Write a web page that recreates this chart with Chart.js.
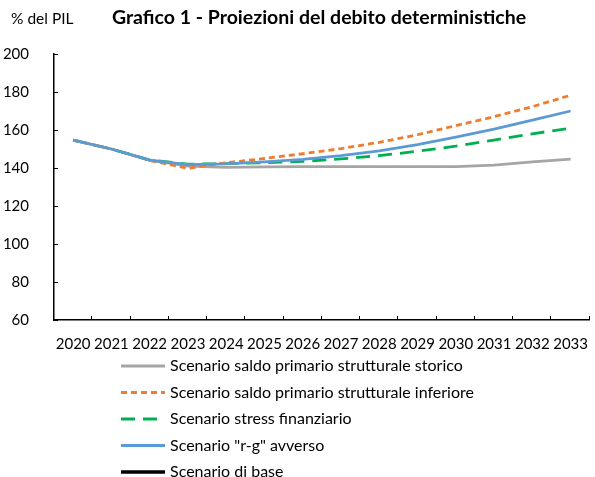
<!DOCTYPE html>
<html>
<head>
<meta charset="utf-8">
<script src="https://cdn.jsdelivr.net/npm/chart.js@4/dist/chart.umd.min.js"></script>
<style>
  html, body { margin: 0; padding: 0; background: #fff; }
  #wrap { width: 595px; height: 477px; }
</style>
</head>
<body>
<div id="wrap"><canvas id="chart" width="595" height="477"></canvas></div>
<script>
var FONT = "Lato, 'Open Sans', sans-serif";

var years = ['2020', '2021', '2022', '2023', '2024', '2025', '2026', '2027', '2028', '2029', '2030', '2031', '2032', '2033'];
var yTicks = [60, 80, 100, 120, 140, 160, 180, 200];

// debito/PIL per scenario
var storico   = [154.7, 150.0, 144.2, 141.0, 140.3, 140.6, 140.7, 140.7, 140.7, 140.7, 140.7, 141.5, 143.2, 144.7];
var inferiore = [154.7, 150.0, 144.0, 139.8, 142.8, 145.0, 147.5, 150.2, 153.5, 157.5, 162.3, 167.0, 172.3, 178.3];
var stress    = [154.7, 150.0, 144.2, 142.0, 142.3, 142.8, 143.5, 144.8, 146.5, 148.8, 151.5, 154.7, 158.0, 161.0];
var rgAvverso = [154.7, 150.0, 144.2, 141.8, 142.2, 143.2, 144.5, 146.5, 149.0, 152.3, 156.2, 160.5, 165.2, 170.0];
var base      = [null, null, null, null, null, null, null, null, null, null, null, null, null, null];

var seriesNames = [
    'Scenario saldo primario strutturale storico',
    'Scenario saldo primario strutturale inferiore',
    'Scenario stress finanziario',
    'Scenario "r-g" avverso',
    'Scenario di base'
];

function line(label, data, color, dash, order, width) {
    return {
        label: label,
        data: data,
        borderColor: color,
        backgroundColor: color,
        borderWidth: width || 2.8,
        borderDash: dash,
        pointRadius: 0,
        tension: 0,
        fill: false,
        order: order
    };
}

// titles, inner tick marks and the vertical legend
var decorations = {
    id: 'decorations',
    afterDraw: function (chart) {
        var ctx = chart.ctx;
        var area = chart.chartArea;
        var y = chart.scales.y;
        ctx.save();

        ctx.fillStyle = '#000';
        ctx.textBaseline = 'middle';
        ctx.textAlign = 'left';
        ctx.font = '15.5px ' + FONT;
        ctx.fillText('% del PIL', 11, 19);
        ctx.font = 'bold 19.5px ' + FONT;
        ctx.textAlign = 'center';
        ctx.fillText('Grafico 1 - Proiezioni del debito deterministiche', 319, 18);

        ctx.strokeStyle = '#000';
        ctx.lineWidth = 1;
        ctx.beginPath();
        for (var i = 0; i < yTicks.length; i++) {
            var py = Math.round(y.getPixelForValue(yTicks[i])) + 0.5;
            ctx.moveTo(area.left, py);
            ctx.lineTo(area.left + 4, py);
        }
        var step = (area.right - area.left) / years.length;
        for (var j = 1; j <= years.length; j++) {
            var px = Math.round(area.left + j * step) - 0.5;
            ctx.moveTo(px, area.bottom);
            ctx.lineTo(px, area.bottom - 4);
        }
        ctx.stroke();

        var ds = chart.data.datasets;
        ctx.font = '16px ' + FONT;
        ctx.textAlign = 'left';
        for (var k = 0; k < ds.length; k++) {
            var ly = 366 + k * 26.5;
            ctx.beginPath();
            ctx.strokeStyle = ds[k].borderColor;
            ctx.lineWidth = ds[k].borderWidth;
            ctx.setLineDash(ds[k].borderDash || []);
            ctx.moveTo(121, ly);
            ctx.lineTo(165, ly);
            ctx.stroke();
            ctx.setLineDash([]);
            ctx.fillStyle = '#000';
            ctx.fillText(ds[k].label, 170, ly);
        }
        ctx.restore();
    }
};

var chart = new Chart(document.getElementById('chart'), {
    type: 'line',
    data: {
        labels: years,
        datasets: [
            line(seriesNames[0], storico, '#A5A5A5', [], 4),
            line(seriesNames[1], inferiore, '#ED7D31', [6, 4], 2),
            line(seriesNames[2], stress, '#00B050', [14, 8], 3),
            line(seriesNames[3], rgAvverso, '#5B9BD5', [], 1),
            line(seriesNames[4], base, '#000000', [], 5, 3.5)
        ]
    },
    options: {
        responsive: false,
        animation: false,
        layout: { padding: { top: 54, left: 0, right: 0, bottom: 117 } },
        plugins: {
            legend: { display: false },
            title: { display: false },
            tooltip: { enabled: false }
        },
        scales: {
            x: {
                offset: true,
                grid: { display: false },
                border: { display: true, color: '#000', width: 1.5 },
                ticks: { color: '#000', font: { family: FONT, size: 15 }, padding: 7, maxRotation: 0, autoSkip: false },
                afterFit: function (scale) { scale.height = 40; }
            },
            y: {
                min: 60,
                max: 200,
                grid: { display: false },
                border: { display: true, color: '#000', width: 1.5 },
                ticks: { color: '#000', stepSize: 20, font: { family: FONT, size: 15 }, padding: 17 },
                afterFit: function (scale) { scale.width = 54; }
            }
        }
    },
    plugins: [decorations]
});
</script>
</body>
</html>
